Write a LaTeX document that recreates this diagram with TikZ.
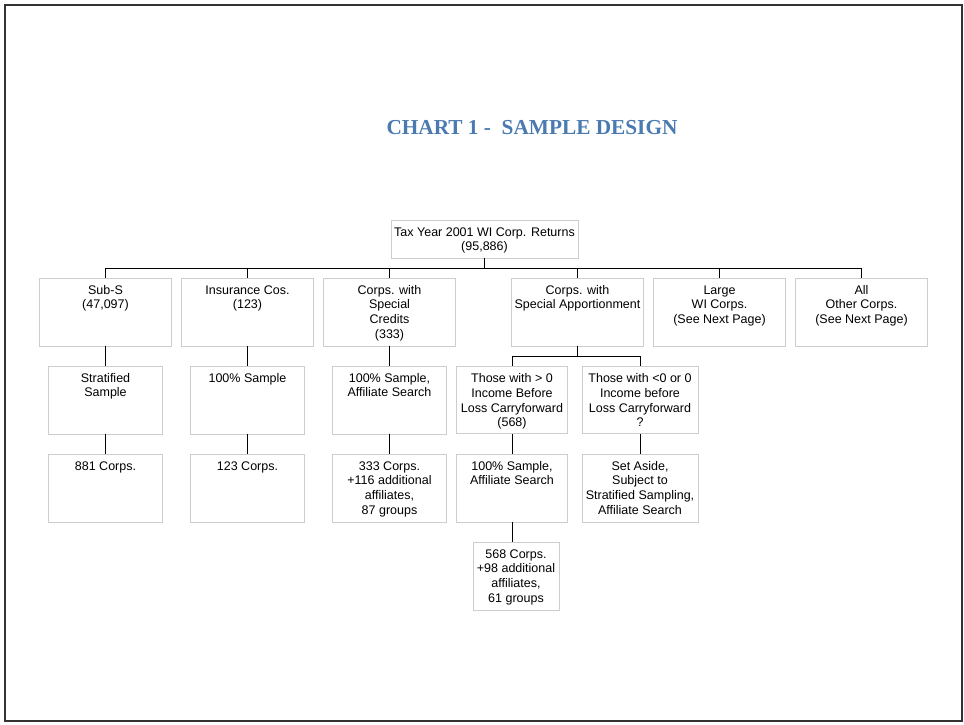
\documentclass[tikz,border=0pt]{standalone}
\usepackage{fontspec}
\setmainfont{Liberation Sans}
\newfontfamily\titlefont{Liberation Serif}
\definecolor{titleblue}{RGB}{74,122,176}
\definecolor{boxgray}{RGB}{205,205,205}
\newcommand{\bt}[3]{\parbox[c][#2pt][t]{#1pt}{\centering\rule{0pt}{16pt}#3}}
\tikzset{
  bx/.style={draw=boxgray, line width=0.9pt, inner sep=0pt, fill=white,
             font=\fontsize{12.5}{14.8}\selectfont},
  conn/.style={draw=black, line width=0.9pt}
}
\begin{document}
\begin{tikzpicture}[x=1pt,y=-1pt]
\useasboundingbox (0,0) rectangle (964,724);
\draw[line width=1.6pt, black!80] (5,5) rectangle (962,721);
\node[text=titleblue, font=\titlefont\bfseries\fontsize{21.3}{24}\selectfont] (title) at (532,128) {CHART 1 -\ \ SAMPLE DESIGN};

\node[bx] (top) at (484.5,239) {\bt{187}{38}{Tax Year 2001 WI Corp. Returns\\(95,886)}};

\node[bx] (subs)  at (105.5,312) {\bt{132}{68}{Sub-S\\(47,097)}};
\node[bx] (ins)   at (247.5,312) {\bt{132}{68}{Insurance Cos.\\(123)}};
\node[bx] (cred)  at (389.5,312) {\bt{132}{68}{Corps. with\\Special\\Credits\\(333)}};
\node[bx] (spap)  at (577.5,312) {\bt{132}{68}{Corps. with\\Special Apportionment}};
\node[bx] (large) at (719.5,312) {\bt{132}{68}{Large\\WI Corps.\\(See Next Page)}};
\node[bx] (allo)  at (861.5,312) {\bt{132}{68}{All\\Other Corps.\\(See Next Page)}};

\node[bx] (strat) at (105.5,400) {\bt{114}{68}{Stratified\\Sample}};
\node[bx] (hund)  at (247.5,400) {\bt{114}{68}{100\% Sample}};
\node[bx] (hcred) at (389.5,400) {\bt{114}{68}{100\% Sample,\\Affiliate Search}};

\node[bx] (c881) at (105.5,488) {\bt{114}{68}{881 Corps.}};
\node[bx] (c123) at (247.5,488) {\bt{114}{68}{123 Corps.}};
\node[bx] (c333) at (389.5,488) {\bt{114}{68}{333 Corps.\\+116 additional\\affiliates,\\87 groups}};

\node[bx] (pos) at (512,400) {\bt{111}{67}{Those with > 0\\Income Before\\Loss Carryforward\\(568)}};
\node[bx] (neg) at (640,400) {\bt{116}{67}{Those with <0 or 0\\Income before\\Loss Carryforward\\?}};
\node[bx] (hpos) at (512,488) {\bt{111}{68}{100\% Sample,\\Affiliate Search}};
\node[bx] (aside) at (640,488) {\bt{116}{68}{Set Aside,\\Subject to\\Stratified Sampling,\\Affiliate Search}};
\node[bx] (c568) at (516,576) {\bt{86}{68}{568 Corps.\\+98 additional\\affiliates,\\61 groups}};

\coordinate (j1) at (484.5,268);
\coordinate (j2) at (577.5,356);

\draw[conn] (top.south) -- (j1);
\draw[conn] (subs.north) -- (subs.north |- j1) -- (allo.north |- j1) -- (allo.north);
\foreach \n in {ins,cred,spap,large}
  \draw[conn] (\n.north) -- (\n.north |- j1);

\draw[conn] (subs.south) -- (strat.north);
\draw[conn] (ins.south) -- (hund.north);
\draw[conn] (cred.south) -- (hcred.north);
\draw[conn] (strat.south) -- (c881.north);
\draw[conn] (hund.south) -- (c123.north);
\draw[conn] (hcred.south) -- (c333.north);

\draw[conn] (spap.south) -- (j2);
\draw[conn] (pos.north) -- (pos.north |- j2) -- (neg.north |- j2) -- (neg.north);
\draw[conn] (pos.south) -- (hpos.north);
\draw[conn] (neg.south) -- (aside.north);
\draw[conn] (hpos.south) -- (hpos.south |- c568.north);
\end{tikzpicture}
\end{document}
